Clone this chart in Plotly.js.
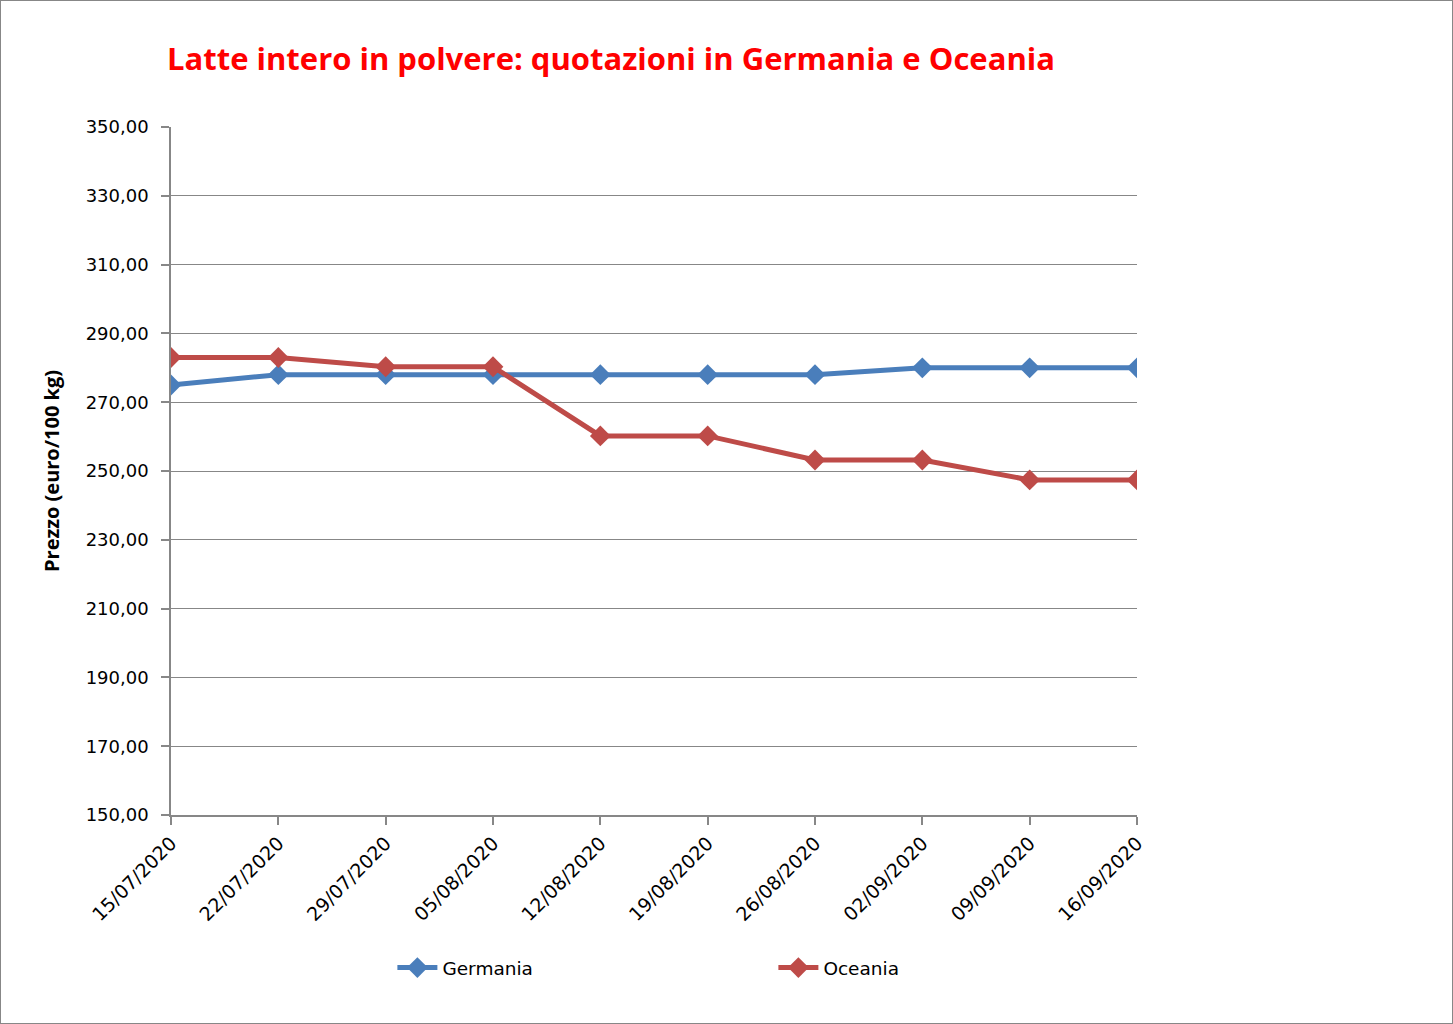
<!DOCTYPE html>
<html>
<head>
<meta charset="utf-8">
<script src="https://cdn.plot.ly/plotly-3.0.1.min.js"></script>
<style>
html,body{margin:0;padding:0;background:#fff;}
#wrap{position:relative;width:1453px;height:1024px;}
#chart{position:absolute;left:0;top:0;width:1453px;height:1024px;}
#frame{position:absolute;left:0;top:0;width:1451px;height:1022px;border:1px solid #878787;pointer-events:none;}
</style>
</head>
<body>
<div id="wrap"><div id="chart"></div><div id="frame"></div></div>
<script>
const dates = ["15/07/2020","22/07/2020","29/07/2020","05/08/2020","12/08/2020","19/08/2020","26/08/2020","02/09/2020","09/09/2020","16/09/2020"];
const germania = [275, 278, 278, 278, 278, 278, 278, 280, 280, 280];
const oceania = [283, 283, 280.3, 280.3, 260.2, 260.2, 253.2, 253.2, 247.4, 247.4];
const yTicks = [150,170,190,210,230,250,270,290,310,330,350];
const yTickText = yTicks.map(v => v.toFixed(2).replace('.', ','));

const traces = [
  {x: dates, y: germania, name: "Germania", type: "scatter", mode: "lines+markers",
   line: {color: "#4a7ebb", width: 5}, marker: {symbol: "diamond", size: 16, color: "#4a7ebb"}},
  {x: dates, y: oceania, name: "Oceania", type: "scatter", mode: "lines+markers",
   line: {color: "#be4b48", width: 5}, marker: {symbol: "diamond", size: 16, color: "#be4b48"}}
];

const layout = {
  width: 1453, height: 1024,
  margin: {l: 171, r: 316, t: 127, b: 209},
  paper_bgcolor: "#fff", plot_bgcolor: "#fff",
  font: {family: "DejaVu Sans", size: 18, color: "#000"},
  title: {text: "Latte intero in polvere: quotazioni in Germania e Oceania",
    font: {family: "Open Sans", size: 31, color: "#ff0000", weight: "bold"},
    x: 167/1453, xanchor: "left", y: 1 - 59/1024, yanchor: "middle"},
  xaxis: {type: "category", range: [0, 9], showgrid: false, zeroline: false,
    showline: true, linecolor: "#878787", linewidth: 1.5,
    ticks: "outside", ticklen: 8, tickcolor: "#878787", tickwidth: 1.5,
    tickangle: -45, tickfont: {family: "DejaVu Sans", size: 19}},
  yaxis: {range: [150, 350], tickvals: yTicks, ticktext: yTickText,
    showgrid: true, gridcolor: "#878787", gridwidth: 1.4, zeroline: false,
    showline: true, linecolor: "#878787", linewidth: 1.5,
    ticks: "outside", ticklen: 8, tickcolor: "#878787", tickwidth: 1.5,
    ticklabelstandoff: 9,
    tickfont: {family: "DejaVu Sans", size: 18},
    title: {text: "Prezzo (euro/100 kg)", font: {family: "Open Sans", size: 20, weight: "bold"}, standoff: 21}},
  showlegend: true,
  legend: {orientation: "h", x: 333/1453, xanchor: "left", y: (815-968)/688, yanchor: "middle",
    itemwidth: 40, entrywidth: 326, entrywidthmode: "pixels",
    font: {family: "DejaVu Sans", size: 18.5}, bgcolor: "rgba(0,0,0,0)"}
};

Plotly.newPlot("chart", traces, layout, {displayModeBar: false});
</script>
</body>
</html>
